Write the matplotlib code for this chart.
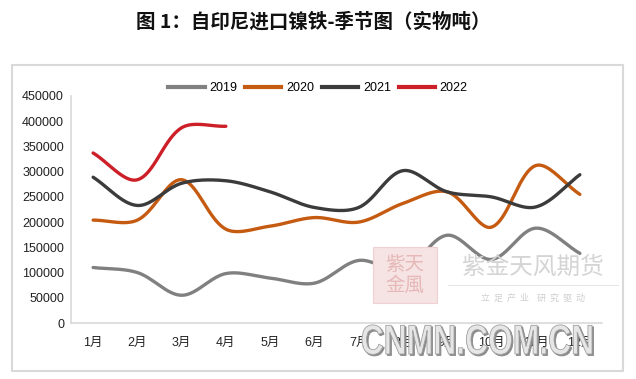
import numpy as np
import matplotlib
matplotlib.use('Agg')
import matplotlib.pyplot as plt
from matplotlib.lines import Line2D
from matplotlib.patches import Rectangle, PathPatch
from matplotlib.textpath import TextPath
from matplotlib.font_manager import FontProperties
from matplotlib.transforms import Affine2D

plt.rcParams['font.family'] = ['Liberation Sans', 'Noto Sans CJK SC', 'DejaVu Sans']

months = ['1月', '2月', '3月', '4月', '5月', '6月', '7月', '8月', '9月', '10月', '11月', '12月']
y2019 = [110000, 100000, 55000, 98000, 89000, 79000, 124000, 105000, 174000, 126000, 188000, 138000]
y2020 = [204000, 204000, 284000, 186000, 192000, 209000, 200000, 237000, 260000, 190000, 312000, 255000]
y2021 = [289000, 233000, 277000, 282000, 260000, 229000, 229000, 302000, 260000, 250000, 230000, 294000]
y2022 = [337000, 284000, 387000, 390000]
series_names = ['2019', '2020', '2021', '2022']
colors = ['#808080', '#c55a11', '#3b3b3b', '#cc1f27']

W, H = 636, 379
fig = plt.figure(figsize=(W / 100, H / 100), dpi=100)
fig.patch.set_facecolor('white')


def smooth(ax, xs, ys, n=40):
    """Excel-like smoothed line: Bezier segments built in display space."""
    P = ax.transData.transform(np.column_stack([xs, ys]).astype(float))
    Pe = np.vstack([P[0], P, P[-1]])
    t = np.linspace(0, 1, n)[:, None]
    out = []
    for i in range(1, len(Pe) - 2):
        p0, p1, p2, p3 = Pe[i - 1], Pe[i], Pe[i + 1], Pe[i + 2]
        d01 = np.hypot(*(p1 - p0))
        d12 = np.hypot(*(p2 - p1))
        d23 = np.hypot(*(p3 - p2))
        w1 = d12 / (d01 + d12) if d01 + d12 > 0 else 0.5
        w2 = d12 / (d12 + d23) if d12 + d23 > 0 else 0.5
        c1 = p1 + (p2 - p0) * w1 / 3
        c2 = p2 - (p3 - p1) * w2 / 3
        seg = (1 - t) ** 3 * p1 + 3 * (1 - t) ** 2 * t * c1 + 3 * (1 - t) * t ** 2 * c2 + t ** 3 * p2
        out.append(seg if i == 1 else seg[1:])
    S = ax.transData.inverted().transform(np.vstack(out))
    return S[:, 0], S[:, 1]


# frame
fig.patches.append(Rectangle((12 / W, 1 - 371 / H), (623 - 12) / W, (371 - 65) / H,
                             transform=fig.transFigure, fill=False,
                             edgecolor='#d9d9d9', linewidth=1.5, zorder=0))

# title
fig.text(313 / W, 1 - 22 / H, '图 1：自印尼进口镍铁-季节图（实物吨）',
         ha='center', va='center', fontsize=14, fontweight='bold',
         family=['Noto Sans CJK SC', 'DejaVu Sans'], color='#111111')

ax = fig.add_axes([71 / W, 56 / H, (602 - 71) / W, (323 - 96) / H])
ax.set_facecolor('none')
ax.set_xlim(0.5, 12.5)
ax.set_ylim(0, 450000)

# watermark (behind lines)
fig.patches.append(Rectangle((373 / W, 1 - 303 / H), 64 / W, 56 / H, transform=fig.transFigure,
                             facecolor='#f6e3e3', edgecolor='#f0d0d0', linewidth=0.8, zorder=0.5))
fig.text(405 / W, 1 - 275 / H, '紫天\n金風', ha='center', va='center', fontsize=14,
         family=['Noto Sans CJK SC'], color='#e6b8b8', linespacing=1.0, zorder=0.6)
fig.text(533 / W, 1 - 267 / H, '紫金天风期货', ha='center', va='center', fontsize=17,
         family=['Noto Sans CJK SC'], color='#d4d4d4', zorder=0.6)
fig.lines.append(Line2D([448 / W, 618 / W], [1 - 285 / H, 1 - 285 / H], transform=fig.transFigure,
                        color='#e6e6e6', linewidth=0.8, zorder=0.6))
fig.text(533 / W, 1 - 298 / H, '立  足  产  业    研  究  驱  动', ha='center', va='center', fontsize=6.5,
         family=['Noto Sans CJK SC'], color='#cfcfcf', zorder=0.6)

x = np.arange(1, 13)
data = [y2019, y2020, y2021, y2022]
for name, vals, c in zip(series_names, data, colors):
    xs = x[:len(vals)]
    sx, sy = smooth(ax, xs, vals)
    ax.plot(sx, sy, color=c, linewidth=2.4, solid_capstyle='round', zorder=3)

ax.set_yticks(np.arange(0, 450001, 50000))
ax.set_yticklabels([str(v) for v in range(0, 450001, 50000)])
ax.set_xticks(x)
ax.set_xticklabels(months)
ax.tick_params(axis='both', length=0, labelsize=9, colors='#222222')
ax.tick_params(axis='y', pad=5)
ax.tick_params(axis='x', pad=10)
for s in ['top', 'right']:
    ax.spines[s].set_visible(False)
for s in ['left', 'bottom']:
    ax.spines[s].set_color('#d9d9d9')
    ax.spines[s].set_linewidth(1.2)

handles = [Line2D([0], [0], color=c, linewidth=3) for c in colors]
fig.legend(handles, series_names, loc='center', bbox_to_anchor=(318 / W, 1 - 88 / H),
           ncol=4, frameon=False, fontsize=9, handlelength=2.9, handletextpad=0.4,
           columnspacing=0.6)

# CNMN watermark overlay
fp = FontProperties(family='Liberation Sans', weight='bold')
tp = TextPath((0, 0), 'CNMN.COM.CN', size=1, prop=fp)
ext = tp.get_extents()
sxs = 230 / ext.width
sys_ = 30 / 0.72
for dx, dy, fc, ec in [(1.5, -1.5, '#8a8a8a', '#8a8a8a'), (0, 0, '#e6e6e6', '#a0a0a0')]:
    tr = Affine2D().translate(-ext.x0, 0).scale(sxs / W, sys_ / H).translate((362 + dx) / W, (H - 354 + dy) / H) + fig.transFigure
    fig.patches.append(PathPatch(tp, transform=tr, facecolor=fc, edgecolor=ec, linewidth=0.6, zorder=10))

fig.savefig('out.png', dpi=100)
